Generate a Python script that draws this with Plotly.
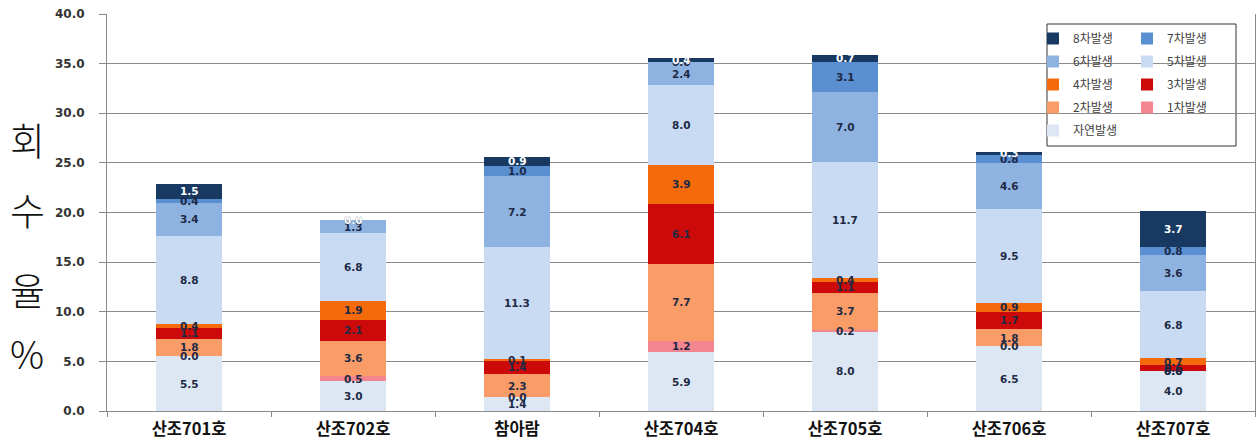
import plotly.graph_objects as go

# Recovery rate (%) per cultivar, stacked by occurrence round
categories = ["산조701호", "산조702호", "참아람", "산조704호", "산조705호", "산조706호", "산조707호"]

series_names = ["자연발생", "1차발생", "2차발생", "3차발생", "4차발생",
                "5차발생", "6차발생", "7차발생", "8차발생"]

natural = [5.5, 3.0, 1.4, 5.9, 8.0, 6.5, 4.0]
round1 = [0.0, 0.5, 0.0, 1.2, 0.2, 0.0, 0.0]
round2 = [1.8, 3.6, 2.3, 7.7, 3.7, 1.8, 0.0]
round3 = [1.1, 2.1, 1.4, 6.1, 1.1, 1.7, 0.6]
round4 = [0.4, 1.9, 0.1, 3.9, 0.4, 0.9, 0.7]
round5 = [8.8, 6.8, 11.3, 8.0, 11.7, 9.5, 6.8]
round6 = [3.4, 1.3, 7.2, 2.4, 7.0, 4.6, 3.6]
round7 = [0.4, 0.0, 1.0, 0.0, 3.1, 0.8, 0.8]
round8 = [1.5, 0.0, 0.9, 0.4, 0.7, 0.3, 3.7]

y_ticks = [0, 5, 10, 15, 20, 25, 30, 35, 40]
axis_title_chars = ["회", "수", "율", "%"]

series_values = [natural, round1, round2, round3, round4, round5, round6, round7, round8]
colors = ["#DDE7F3", "#F3868E", "#FA9C68", "#CC0A0A", "#F56B0C",
          "#C9DBF2", "#8FB3E0", "#5A8FD2", "#183A62"]
label_colors = ["#1E2A45"] * 8 + ["#FFFFFF"]
# two legend columns: left column 8,6,4,2,자연 / right column 7,5,3,1
legend_ids = ["legend", "legend2", "legend", "legend2", "legend",
              "legend2", "legend", "legend2", "legend"]

fig = go.Figure()
n = len(series_names)
for k, (name, vals, col, leg) in enumerate(zip(series_names, series_values, colors, legend_ids)):
    fig.add_trace(go.Bar(
        name=name, x=categories, y=vals, marker=dict(color=col, line=dict(width=0)),
        legend=leg, legendgroup=name, legendrank=100 + (n - k), width=0.4,
    ))

# value labels centred in each segment
annotations = []
base = [0.0] * len(categories)
for vals, lc in zip(series_values, label_colors):
    for i, v in enumerate(vals):
        annotations.append(dict(
            x=categories[i], y=base[i] + v / 2, xref="x", yref="y",
            text=f"<b>{v:.1f}</b>", showarrow=False,
            font=dict(family="DejaVu Sans", size=10.5, color=lc),
        ))
        base[i] += v

L, R, T, B = 107, 1, 14, 31
W, H = 1256, 442
pw, ph = W - L - R, H - T - B

# vertical axis title, one character per line (pixel centres converted to paper)
title_centres = [138, 208, 288, 352]
for ch, yc in zip(axis_title_chars, title_centres):
    annotations.append(dict(
        x=(27 - L) / pw, y=(H - B - yc) / ph, xref="paper", yref="paper",
        xanchor="center", yanchor="middle", text=ch, showarrow=False,
        font=dict(family="Noto Sans CJK KR", size=38, color="#111111", weight=300),
    ))

legend_font = dict(family="Noto Sans CJK KR", size=12, color="#404040")
legend_common = dict(
    xanchor="left", yanchor="top", bgcolor="rgba(0,0,0,0)", font=legend_font,
    traceorder="grouped", tracegroupgap=4, itemwidth=30,
)
fig.update_layout(
    barmode="stack",
    width=W, height=H,
    margin=dict(l=L, r=R, t=T, b=B),
    paper_bgcolor="white", plot_bgcolor="white",
    annotations=annotations,
    showlegend=True,
    legend=dict(x=(1033 - L) / pw, y=(H - B - 24) / ph, **legend_common),
    legend2=dict(x=(1127 - L) / pw, y=(H - B - 24) / ph, **legend_common),
    shapes=[dict(type="rect", xref="paper", yref="paper",
                 x0=(1047 - L) / pw, x1=(1236 - L) / pw,
                 y0=(H - B - 146) / ph, y1=(H - B - 24) / ph,
                 line=dict(color="#333333", width=1), fillcolor="white", layer="below")],
    bargap=0.6,
)

fig.update_yaxes(
    range=[0, 40], tickvals=y_ticks, ticktext=[f"<b>{t:.1f}</b>" for t in y_ticks],
    showgrid=True, gridcolor="#8A8A8A", gridwidth=1,
    showline=True, linecolor="#8A8A8A", linewidth=1, mirror=True,
    ticks="outside", ticklen=7, tickcolor="#8A8A8A",
    tickfont=dict(family="DejaVu Sans", size=12, color="#333333"),
    ticklabelstandoff=12, zeroline=False,
)
fig.update_xaxes(
    showline=True, linecolor="#8A8A8A", linewidth=1,
    ticks="outside", tickson="boundaries", ticklen=5, tickcolor="#8A8A8A",
    tickfont=dict(family="Noto Sans CJK KR", size=16.5, color="#111111"),
    ticktext=[f"<b>{c}</b>" for c in categories], tickvals=categories,
    ticklabelstandoff=3,
)

fig.write_html("out.html")
